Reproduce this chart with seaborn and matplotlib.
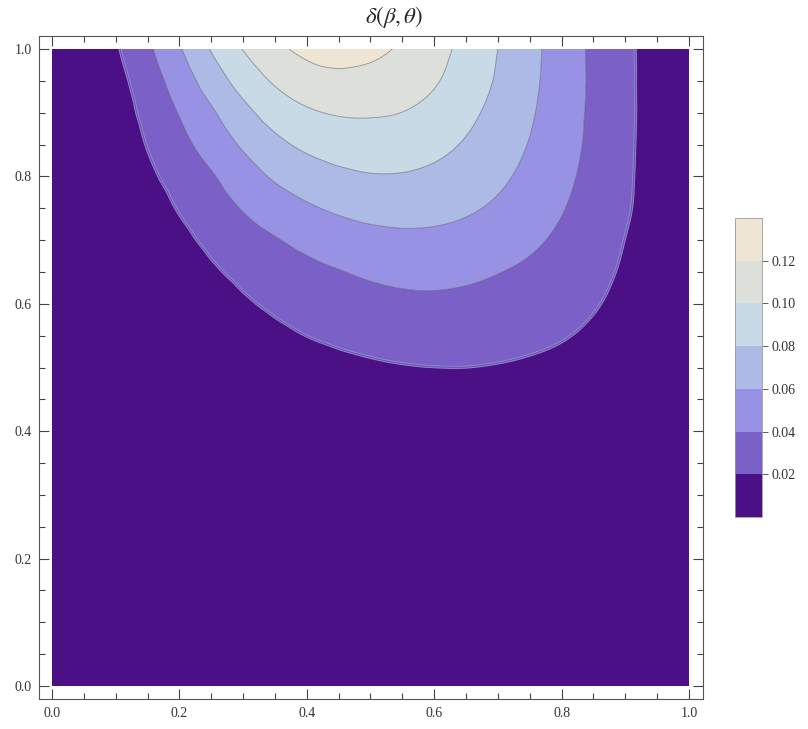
import numpy as np
import matplotlib
matplotlib.use("Agg")
import matplotlib as mpl
import matplotlib.pyplot as plt
import matplotlib.tri as mtri
from matplotlib.colors import ListedColormap, BoundaryNorm
from matplotlib.ticker import MultipleLocator, FormatStrFormatter, NullLocator
import seaborn as sns

# ---------------- data: delta(beta, theta) ----------------
beta = [0.00, 0.05, 0.10, 0.15, 0.20, 0.25, 0.30, 0.35, 0.40, 0.45, 0.50,
        0.55, 0.60, 0.65, 0.70, 0.75, 0.80, 0.85, 0.90, 0.95, 1.00]

theta = [0.00, 0.10, 0.20, 0.30, 0.35, 0.40, 0.45, 0.50, 0.55, 0.60,
         0.65, 0.70, 0.75, 0.80, 0.85, 0.90, 0.95, 1.00]

delta_00 = [0.0] * 21
delta_10 = [0.0] * 21
delta_20 = [0.0] * 21
delta_30 = [0, 0, 0, 0, 0, .0001, .0001, .0002, .0003, .0004, .0005, .0006, .0007,
            .0007, .0007, .0007, .0006, .0004, .0003, .0002, .0001]
delta_35 = [0, 0, 0, 0, .0001, .0002, .0003, .0005, .0008, .0011, .0014, .0016, .0017,
            .0017, .0017, .0016, .0013, .0010, .0007, .0005, .0003]
delta_40 = [0, 0, 0, .0001, .0002, .0004, .0008, .0013, .0020, .0028, .0035, .0041, .0043,
            .0044, .0043, .0039, .0032, .0023, .0015, .0009, .0005]
delta_45 = [0, 0, .0001, .0002, .0004, .0009, .0019, .0033, .0053, .0075, .0094, .0107, .0112,
            .0110, .0108, .0097, .0077, .0053, .0031, .0017, .0009]
delta_50 = [0, .0001, .0002, .0004, .0010, .0022, .0046, .0086, .0125, .0154, .0175, .0190,
            .0198, .0199, .0189, .0172, .0147, .0110, .0063, .0031, .0015]
delta_55 = [0, .0001, .0003, .0008, .0021, .0050, .0106, .0159, .0201, .0231, .0254, .0272,
            .0281, .0278, .0264, .0242, .0212, .0167, .0109, .0051, .0022]
delta_60 = [.0001, .0002, .0005, .0016, .0044, .0108, .0175, .0230, .0273, .0307, .0336, .0357,
            .0363, .0354, .0333, .0305, .0266, .0214, .0148, .0076, .0031]
delta_65 = [.0001, .0003, .0010, .0031, .0092, .0173, .0243, .0301, .0351, .0392, .0428, .0451,
            .0455, .0437, .0405, .0367, .0316, .0252, .0176, .0098, .0038]
delta_70 = [.0001, .0005, .0017, .0059, .0151, .0240, .0320, .0387, .0450, .0502, .0539, .0558,
            .0556, .0531, .0489, .0433, .0365, .0285, .0197, .0113, .0044]
delta_75 = [.0002, .0008, .0029, .0108, .0212, .0309, .0411, .0500, .0574, .0629, .0664, .0673,
            .0659, .0625, .0570, .0496, .0411, .0316, .0219, .0124, .0047]
delta_80 = [.0003, .0011, .0048, .0160, .0274, .0382, .0510, .0624, .0705, .0759, .0788, .0787,
            .0759, .0709, .0637, .0549, .0449, .0340, .0228, .0127, .0048]
delta_85 = [.0004, .0016, .0076, .0208, .0342, .0479, .0625, .0751, .0838, .0886, .0903, .0893,
            .0852, .0782, .0693, .0591, .0478, .0357, .0234, .0127, .0047]
delta_90 = [.0006, .0022, .0107, .0253, .0410, .0574, .0744, .0884, .0974, .1015, .1019, .0998,
            .0940, .0848, .0739, .0622, .0495, .0364, .0238, .0128, .0047]
delta_95 = [.0008, .0031, .0138, .0301, .0491, .0693, .0878, .1023, .1117, .1150, .1140, .1097,
            .1018, .0905, .0779, .0644, .0506, .0369, .0237, .0128, .0049]
delta_100 = [.0014, .0053, .0179, .0363, .0582, .0812, .1006, .1152, .1245, .1279, .1245, .1175,
             .1071, .0942, .0800, .0656, .0509, .0365, .0235, .0132, .0056]

delta_rows = [delta_00, delta_10, delta_20, delta_30, delta_35, delta_40, delta_45,
              delta_50, delta_55, delta_60, delta_65, delta_70, delta_75, delta_80,
              delta_85, delta_90, delta_95, delta_100]

contour_levels = [0.02, 0.04, 0.06, 0.08, 0.10, 0.12]
cbar_bounds = [0.0, 0.02, 0.04, 0.06, 0.08, 0.10, 0.12, 0.14]
band_colors = ["#4B1085", "#7B60C7", "#9892E4", "#AEBAE6", "#C7DAE5", "#DDDFDB", "#EFE5D5"]
title_text = r"$\delta(\beta,\theta)$"

# ---------------- style ----------------
sns.set_theme(style="ticks")
plt.rcParams["font.family"] = ["Liberation Serif", "DejaVu Serif"]
plt.rcParams["mathtext.fontset"] = "stix"

# ---------------- triangulated field (library cubic refinement for smooth contours) ----
B, T = np.meshgrid(beta, theta)
Z = np.array(delta_rows, dtype=float)
nr, nc = Z.shape
tris = []
for j in range(nr - 1):
    for i in range(nc - 1):
        k = j * nc + i
        tris.append([k, k + 1, k + nc + 1])
        tris.append([k, k + nc + 1, k + nc])
tri = mtri.Triangulation(B.ravel(), T.ravel(), np.array(tris))
interp = mtri.CubicTriInterpolator(tri, Z.ravel(), kind="geom")
tri_r, z_r = mtri.UniformTriRefiner(tri).refine_field(Z.ravel(), triinterpolator=interp, subdiv=3)

fill_levels = [-1.0] + contour_levels + [1.0]

fig = plt.figure(figsize=(8.08, 7.29), dpi=100)
ax = fig.add_axes([39 / 808, 30 / 729, 664 / 808, 663 / 729])
ax.tricontourf(tri_r, z_r, levels=fill_levels, colors=band_colors, antialiased=True)
# outer contour drawn as a soft double line, as in the reference
ax.tricontour(tri_r, z_r, levels=[contour_levels[0]], colors=["#938BC4"], linewidths=2.2)
ax.tricontour(tri_r, z_r, levels=[contour_levels[0]], colors=["#6E55BE"], linewidths=0.9)
ax.tricontour(tri_r, z_r, levels=contour_levels[1:],
              colors=[(0.28, 0.28, 0.32, 0.55)], linewidths=0.6)

ax.set_xlim(-0.0204, 1.022)
ax.set_ylim(-0.0204, 1.0204)
ax.xaxis.set_major_locator(MultipleLocator(0.2))
ax.yaxis.set_major_locator(MultipleLocator(0.2))
ax.xaxis.set_minor_locator(MultipleLocator(0.05))
ax.yaxis.set_minor_locator(MultipleLocator(0.05))
ax.xaxis.set_major_formatter(FormatStrFormatter("%.1f"))
ax.yaxis.set_major_formatter(FormatStrFormatter("%.1f"))
ax.tick_params(which="both", direction="in", top=True, right=True,
               color="#444444", width=0.8, labelsize=10, labelcolor="#333333")
ax.tick_params(which="major", length=7)
ax.tick_params(which="minor", length=4)
ax.tick_params(axis="x", pad=6)
ax.tick_params(axis="y", pad=5)
for s in ax.spines.values():
    s.set_color("#555555")
    s.set_linewidth(0.8)
ax.set_xlabel("")
ax.set_ylabel("")
ax.grid(False)

fig.text(394 / 808, 1 - 17 / 729, title_text, ha="center", va="center", fontsize=16.5)

# ---------------- colorbar ----------------
cax = fig.add_axes([735 / 808, (729 - 517) / 729, 27 / 808, 299 / 729])
cmap = ListedColormap(band_colors)
norm = BoundaryNorm(cbar_bounds, cmap.N)
cb = mpl.colorbar.ColorbarBase(cax, cmap=cmap, norm=norm,
                               ticks=contour_levels, format="%.2f")
cb.minorticks_off()
cax.yaxis.set_minor_locator(NullLocator())
cb.outline.set_edgecolor("#999999")
cb.outline.set_linewidth(0.6)
cax.tick_params(which="major", direction="out", length=4, width=0.6, color="#444444",
                labelsize=10, labelcolor="#333333", pad=3)

fig.savefig("out.png", dpi=100)
